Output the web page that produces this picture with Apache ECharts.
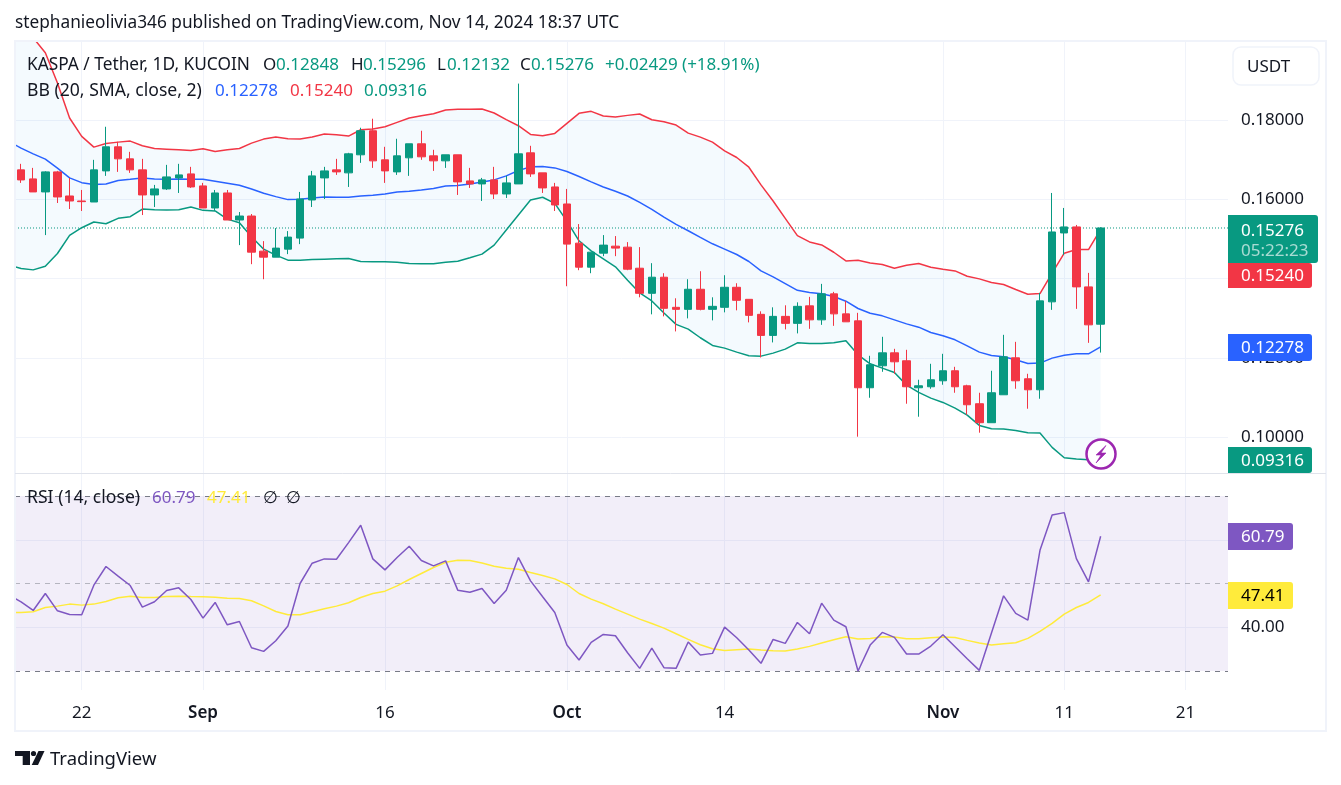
<!DOCTYPE html>
<html>
<head>
<meta charset="utf-8">
<style>html,body{margin:0;padding:0;background:#fff}#c{width:1341px;height:785px}</style>
<script src="https://cdn.jsdelivr.net/npm/echarts@6/dist/echarts.min.js"></script>
</head>
<body>
<div id="c"></div>
<script>
// Daily candles: index 0 = 17 Aug 2024, index 89 = 14 Nov 2024
const openPrice = [.16743,.16515,.16186,.16692,.16084,.15958,.15932,.16717,.17325,.17021,.16743,.1611,.16262,.1654,.16641,.16338,.15781,.1616,.15477,.15578,.14692,.1454,.14742,.15021,.15983,.1654,.16743,.16667,.17123,.1773,.16996,.16692,
.17047,.17401,.17097,.16971,.17123,.16464,.16388,.1649,.16135,.16388,.17173,.16667,.16312,.15882,.14894,.14287,.14641,.14818,.14793,.14261,.13628,.14034,.13274,.13223,.1373,.13223,.13274,.1378,.13476,.13097,.12565,.13046,.12869,
.13311,.12958,.13614,.13109,.12933,.11244,.11799,.12126,.11925,.11244,.11269,.1142,.11673,.11294,.10841,.10362,.11067,.12,.11471,.11193,.13412,.15151,.15303,.1379,.12848];
const highPrice = [.16895,.16793,.16709,.16717,.1654,.16236,.16996,.17831,.17452,.17198,.17021,.16363,.16869,.16895,.16819,.16414,.16236,.16236,.15679,.15629,.14945,.15274,.15198,.16186,.16717,.16819,.17021,.17173,.17806,.18034,.17325,.17528,
.17401,.1773,.17249,.17123,.17123,.16793,.1654,.16819,.16591,.1892,.1735,.16667,.16414,.16262,.15375,.14666,.15097,.15072,.1492,.14793,.14388,.14135,.13502,.13983,.14185,.13527,.14084,.13882,.13476,.13173,.13274,.13325,.134,
.13538,.13866,.13664,.13437,.13135,.12051,.1253,.12227,.12202,.11446,.11849,.12101,.11773,.1132,.11118,.11673,.1258,.12403,.11597,.13639,.1616,.15782,.15353,.14143,.15296];
const lowPrice = [.16414,.16186,.15097,.15907,.15755,.15705,.15932,.16591,.16692,.16667,.15603,.15806,.16236,.1616,.16287,.15781,.15705,.15477,.14844,.14363,.13983,.1454,.14616,.14869,.15806,.16008,.16616,.16312,.1692,.16793,.16414,.16616,
.16591,.16996,.16717,.16793,.1611,.16287,.15958,.16008,.16034,.16388,.16565,.1616,.15705,.13806,.14211,.14135,.14565,.14565,.14211,.13527,.13097,.13046,.12666,.12995,.13198,.12945,.13147,.13198,.12894,.12008,.12388,.12717,.12616,
.12731,.12832,.12807,.12908,.10009,.10992,.11647,.11597,.10841,.10513,.11219,.1132,.11118,.10563,.1011,.10362,.11067,.11219,.10715,.10967,.1321,.14597,.13235,.12378,.12132];
const closePrice = [.16489,.16186,.16692,.16059,.15958,.15941,.16743,.17325,.17021,.16743,.1611,.16262,.16565,.16616,.16312,.15781,.1616,.15477,.15578,.14666,.1454,.14768,.15046,.16008,.16591,.16717,.16692,.17148,.1773,.1697,.16717,.17097,
.17401,.17072,.16971,.17123,.16439,.16388,.1649,.16135,.16414,.17148,.16641,.16287,.15857,.14869,.14287,.14666,.14844,.14768,.14236,.13628,.14034,.13249,.13223,.1373,.13223,.13299,.1378,.13451,.13071,.12565,.13046,.12869,.13299,
.12958,.13614,.13109,.12908,.11244,.11824,.12126,.11899,.11269,.11294,.11446,.11673,.11269,.10815,.10362,.11118,.12025,.1142,.11193,.13437,.15176,.15303,.1379,.12832,.15276];

// Indicators: index 0 = 16 Aug 2024, index 90 = 14 Nov 2024
const bbUpper = [.2070,.20414,.20077,.19697,.18937,.18051,.17587,.17317,.17409,.17443,.17469,.1735,.17283,.17266,.17249,.17232,.17274,.17207,.17249,.17283,.17418,.17519,.1757,.17528,.17519,.1757,.17646,.17629,.17595,.17756,.17772,.17831,.17941,
.18051,.1811,.18161,.18253,.1827,.1827,.18279,.18178,.18009,.17857,.17637,.17604,.17663,.17916,.18169,.1822,.18102,.18076,.18118,.18152,.18009,.17958,.17874,.17671,.1757,.17443,.17224,.17055,.1681,.16363,.15958,.15519,.15082,
.14924,.14849,.14664,.14445,.14462,.14395,.14353,.14261,.14336,.14378,.14286,.14235,.14193,.14059,.13992,.13899,.13849,.13723,.13605,.13622,.14135,.14639,.14731,.14731,.1524];
const bbMid = [.1746,.17291,.17148,.17013,.16785,.1654,.1642,.16371,.16388,.16473,.16506,.1654,.16515,.16506,.16515,.16506,.16506,.16456,.16405,.16354,.16262,.16152,.16068,.15992,.16,.16034,.16059,.16051,.16051,.16084,.16101,.16135,.16186,
.16203,.16236,.1627,.16338,.16346,.16388,.16439,.1649,.16591,.16726,.16819,.16827,.16793,.16701,.16574,.16439,.16312,.16203,.16084,.15924,.15747,.15553,.15367,.15207,.15038,.14877,.14742,.14607,.1443,.14194,.14042,.13873,.13704,
.13647,.13614,.13546,.13429,.13244,.13126,.13059,.12958,.12857,.12773,.12639,.12555,.12454,.12303,.12143,.12059,.12025,.1195,.11857,.11866,.11992,.12067,.12101,.12101,.12278];
const bbLower = [.14337,.14253,.14219,.14312,.14633,.15088,.15283,.15426,.15384,.15519,.15561,.15755,.15738,.1573,.15738,.15806,.15721,.15705,.155,.15409,.15055,.14742,.14591,.14464,.14464,.14481,.14489,.14498,.14506,.1443,.14422,.14422,.14413,
.1438,.14371,.14371,.14413,.14439,.14523,.14616,.14844,.15224,.15603,.15983,.16051,.15899,.15451,.14953,.147,.14498,.14295,.13958,.13637,.13434,.1313,.12843,.12725,.12506,.12312,.12244,.12143,.1205,.12042,.12118,.12219,.12379,
.12361,.12361,.12378,.12429,.12076,.11849,.1174,.1163,.11311,.11126,.10983,.10874,.10731,.10555,.10294,.1021,.10202,.10168,.1011,.10101,.0974,.09479,.09446,.09429,.09316];
const rsiValue = [47.34,45.82,43.84,47.72,43.76,42.93,42.85,49.62,53.88,51.67,49.54,44.6,45.82,48.4,49.01,46.35,42.09,45.67,40.57,41.33,35.32,34.49,36.92,40.27,50,54.64,55.63,55.55,59.35,63.31,55.63,53.12,55.93,58.52,55.25,54.03,55.17,
48.48,48.02,48.86,45.44,48.48,55.93,50.61,46.96,43.38,35.93,32.51,36.54,38.37,38.06,34.18,30.61,35.25,30.76,30.61,36.62,33.65,34.03,40.04,37.6,34.79,31.75,37.22,36.31,41.1,38.52,45.51,41.63,40.11,30,35.93,38.82,37.68,
33.88,33.88,35.7,38.29,35.55,32.81,30.15,38.67,47.19,43.16,41.63,57.6,65.67,66.2,55.7,50.38,60.79];
const rsiMa = [43.38,43.38,43.54,44.52,44.83,45.29,45.06,45.29,45.89,46.73,47.11,46.81,46.81,47.03,47.11,47.03,46.96,46.88,46.65,46.58,46.05,44.9,43.61,42.85,42.85,43.54,44.22,44.83,45.59,46.81,47.72,48.25,49.47,50.91,52.28,53.65,54.87,
55.32,55.25,54.71,53.95,53.5,53.27,52.51,51.83,51.06,49.77,47.72,46.43,45.36,44.14,43,41.86,40.87,39.81,38.52,37.22,36,35.1,34.71,34.87,35.02,34.79,34.64,34.56,35.02,35.63,36.39,37.15,37.83,37.3,37.45,37.83,37.76,
37.38,37.38,37.6,37.76,37.68,37,36.39,35.93,36.24,36.46,37.45,39.05,40.87,43,44.52,45.67,47.41];

const dayTicks = [5,15,30,45,58,76,86,96];
const dayTickLabels = ['22','Sep','16','Oct','14','Nov','11','21'];
const priceTicks = [.10,.12,.14,.16,.18];
const rsiTicks = [40,60];
const rsiLevels = [30,50,70];

const FONT = '"Noto Sans", sans-serif';
const SIZE = 17;
const INK = '#131722', UP = '#089981', DOWN = '#f23645', BLUE = '#2962ff', PURPLE = '#7e57c2', YELLOW = '#ffeb3b', GRID = '#f0f3fa';
const XMIN = -0.5, XMAX = 99.5;
const candleData = openPrice.map((o,i)=>[i,o,closePrice[i],lowPrice[i],highPrice[i]]);
const lineData = a => a.map((v,i)=>[i-1,v]);
const lastClose = closePrice[closePrice.length-1];

const lineSeries = (name,data,color,axis,z) => ({
  name, type:'line', data:lineData(data), xAxisIndex:axis, yAxisIndex:axis, showSymbol:false, symbol:'none',
  lineStyle:{color,width:1.5}, z, clip:true, silent:true
});

function text(x,y,t,fill,size){
  return {type:'text',x,y:y+1,z:50,style:{text:t,fill,font:`${size||SIZE}px ${FONT}`,textVerticalAlign:'middle',textAlign:'left'}};
}
function tag(x,y,w,h,fill,t,color){
  return [{type:'rect',z:40,shape:{x,y,width:w,height:h,r:[0,3,3,0]},style:{fill}},
          text(1241,y+h/2,t,color)];
}

const overlay = [
  {type:'rect',z:30,shape:{x:15,y:41,width:1311,height:690},style:{fill:'none',stroke:GRID,lineWidth:2}},
  {type:'line',z:30,shape:{x1:15,y1:473.5,x2:1326,y2:473.5},style:{stroke:'#e0e3eb',lineWidth:1}},
  text(15,22,'stephanieolivia346 published on TradingView.com, Nov 14, 2024 18:37 UTC',INK,17.25),
  text(27,64,'KASPA / Tether, 1D, KUCOIN',INK,17.3),
  text(263,64,'O',INK), text(276,64,'0.12848',UP),
  text(351,64,'H',INK), text(363,64,'0.15296',UP),
  text(437,64,'L',INK), text(447,64,'0.12132',UP),
  text(520,64,'C',INK), text(531,64,'0.15276',UP),
  text(605,64,'+0.02429 (+18.91%)',UP),
  text(27,90,'BB (20, SMA, close, 2)',INK,17.6),
  text(215,90,'0.12278',BLUE), text(290,90,'0.15240',DOWN), text(364,90,'0.09316',UP),
  text(27,497,'RSI (14, close)',INK,17.6),
  text(152,497,'60.79',PURPLE), text(207,497,'47.41',YELLOW),
  text(263,497,'\u2205',INK), text(286,497,'\u2205',INK),
  {type:'rect',z:40,shape:{x:1233,y:47,width:86,height:38,r:8},style:{fill:'#fff',stroke:GRID,lineWidth:1.5}},
  text(1247,66,'USDT',INK),
  ...tag(1228,263,84,25,DOWN,'0.15240','#fff'),
  {type:'rect',z:41,shape:{x:1228,y:215,width:90,height:48,r:[0,3,3,0]},style:{fill:UP}},
  Object.assign(text(1241,230,'0.15276','#fff'),{z:51}),
  Object.assign(text(1241,250,'05:22:23','rgba(255,255,255,.65)'),{z:51}),
  ...tag(1228,334,84,27,BLUE,'0.12278','#fff'),
  ...tag(1228,447,84,26,UP,'0.09316','#fff'),
  ...tag(1228,523,65,27,PURPLE,'60.79','#fff'),
  ...tag(1228,582,65,27,YELLOW,'47.41','#000'),
  {type:'circle',z:45,shape:{cx:1101,cy:454,r:14.5},style:{fill:'#fff',stroke:'#9c27b0',lineWidth:2.5}},
  {type:'polygon',z:46,shape:{points:[[1106,445.5],[1096,455],[1101,455],[1096,463],[1106,453],[1101,453]]},style:{fill:'#9c27b0',stroke:'#9c27b0',lineWidth:.6}},
  {type:'polygon',z:46,shape:{points:[[15,751],[30,751],[30,765],[22.7,765],[22.7,756],[15,756]]},style:{fill:INK}},
  {type:'circle',z:46,shape:{cx:33.5,cy:753.5,r:2.6},style:{fill:INK}},
  {type:'polygon',z:46,shape:{points:[[38.5,751],[44.5,751],[38,765],[31.7,765]]},style:{fill:INK}},
  {type:'text',x:50,y:760,z:50,style:{text:'TradingView',fill:INK,font:`18.5px ${FONT}`,textVerticalAlign:'middle',textAlign:'left'}},
];

const chart = echarts.init(document.getElementById('c'),null,{renderer:'canvas'});
const xAxisBase = {type:'value',min:XMIN,max:XMAX,axisLine:{show:false},
  axisTick:{show:false,customValues:dayTicks},splitLine:{show:true,lineStyle:{color:GRID,width:1}}};
chart.setOption({
  animation:false, backgroundColor:'#fff', tooltip:{show:false},
  grid:[{left:15,right:113,top:41,height:432},{left:15,right:113,top:474,height:216}],
  xAxis:[
    Object.assign({},xAxisBase,{gridIndex:0,axisLabel:{show:false,customValues:dayTicks}}),
    Object.assign({},xAxisBase,{gridIndex:1,axisLabel:{show:true,customValues:dayTicks,margin:15,hideOverlap:false,showMinLabel:true,showMaxLabel:true,
      formatter:v=>{const s=dayTickLabels[dayTicks.indexOf(v)];return /[a-z]/.test(s)?'{b|'+s+'}':s;},
      color:INK,fontFamily:FONT,fontSize:SIZE,rich:{b:{fontWeight:600,fontFamily:FONT,fontSize:SIZE,color:INK}}}})
  ],
  yAxis:[
    {type:'value',gridIndex:0,position:'right',min:.09093,max:.19995,scale:true,axisLine:{show:false},
     axisTick:{show:false,customValues:priceTicks},splitLine:{show:true,lineStyle:{color:GRID,width:1}},
     axisLabel:{customValues:priceTicks,margin:13,padding:[6,0,0,0],color:INK,fontFamily:FONT,fontSize:SIZE,formatter:v=>v.toFixed(5)}},
    {type:'value',gridIndex:1,position:'right',min:25.66,max:75.03,axisLine:{show:false},
     axisTick:{show:false,customValues:rsiTicks},splitLine:{show:true,lineStyle:{color:GRID,width:1}},
     axisLabel:{customValues:rsiTicks,margin:13,padding:[6,0,0,0],color:INK,fontFamily:FONT,fontSize:SIZE,formatter:v=>v.toFixed(2)}}
  ],
  series:[
    {type:'custom',xAxisIndex:0,yAxisIndex:0,z:1,clip:true,silent:true,data:bbUpper.map((u,i)=>[i-1,u,bbLower[i]]),encode:{x:0,y:[1,2]},
     renderItem:(params,api)=>{
       if(params.dataIndex!==0) return;
       const top=bbUpper.map((v,i)=>api.coord([i-1,v]));
       const bot=bbLower.map((v,i)=>api.coord([i-1,v])).reverse();
       return {type:'polygon',shape:{points:top.concat(bot)},style:{fill:'rgba(33,150,243,0.05)'}};
     }},
    {name:'Last price',type:'line',xAxisIndex:0,yAxisIndex:0,z:2,silent:true,showSymbol:false,symbol:'none',
     data:[[XMIN,lastClose],[XMAX,lastClose]],lineStyle:{color:UP,type:[1,2],width:1}},
    lineSeries('BB upper',bbUpper,DOWN,0,3),
    lineSeries('BB basis',bbMid,BLUE,0,3),
    lineSeries('BB lower',bbLower,UP,0,3),
    {type:'candlestick',name:'KASPA / Tether',xAxisIndex:0,yAxisIndex:0,z:5,barWidth:8,clip:true,silent:true,data:candleData,
     encode:{x:0,y:[1,2,3,4]},
     itemStyle:{color:UP,color0:DOWN,borderColor:UP,borderColor0:DOWN,borderWidth:1}},
    Object.assign(lineSeries('RSI',rsiValue,PURPLE,1,6),{
      markArea:{silent:true,z:1,itemStyle:{color:'rgba(126,87,194,0.1)'},data:[[{yAxis:rsiLevels[0]},{yAxis:rsiLevels[2]}]]},
      markLine:{silent:true,symbol:'none',label:{show:false},animation:false,z:2,data:[
        {yAxis:rsiLevels[2],lineStyle:{color:'#787b86',type:[5,5],width:1}},
        {yAxis:rsiLevels[1],lineStyle:{color:'rgba(120,123,134,0.5)',type:[5,5],width:1}},
        {yAxis:rsiLevels[0],lineStyle:{color:'#787b86',type:[5,5],width:1}}]}}),
    lineSeries('RSI MA',rsiMa,YELLOW,1,5),
  ],
  graphic:overlay
});
</script>
</body>
</html>
